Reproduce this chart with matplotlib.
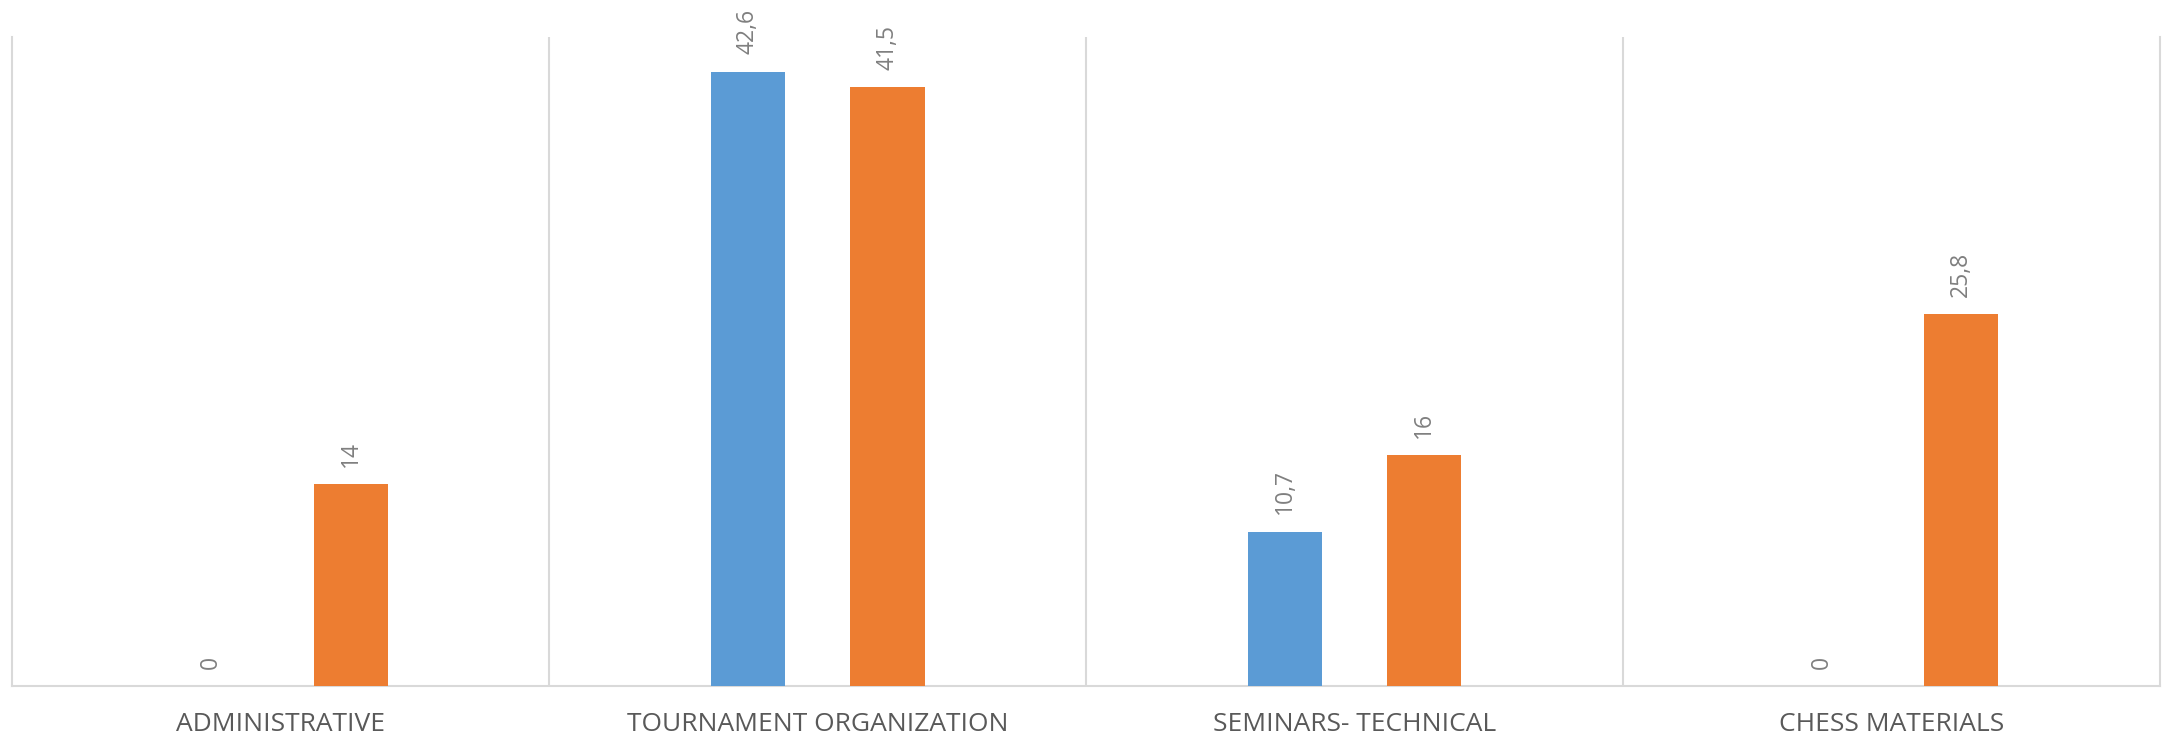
import matplotlib
matplotlib.use("Agg")
import matplotlib.pyplot as plt
import numpy as np

categories = ["ADMINISTRATIVE", "TOURNAMENT ORGANIZATION", "SEMINARS- TECHNICAL", "CHESS MATERIALS"]
series_a = [0, 42.6, 10.7, 0]
series_b = [14, 41.5, 16, 25.8]
labels_a = ["0", "42,6", "10,7", "0"]
labels_b = ["14", "41,5", "16", "25,8"]

BLUE = "#5B9BD5"
ORANGE = "#ED7D31"
GRID = "#D9D9D9"

plt.rcParams['font.family'] = ['Open Sans', 'DejaVu Sans']

fig = plt.figure(figsize=(21.63, 7.40), dpi=100)
ax = fig.add_axes([0.0057, 0.073, 0.9929, 0.877])

x = np.arange(len(categories))
w = 0.138
off = 0.13
ba = ax.bar(x - off, series_a, width=w, color=BLUE, zorder=3)
bb = ax.bar(x + off, series_b, width=w, color=ORANGE, zorder=3)

for bars, labs in ((ba, labels_a), (bb, labels_b)):
    for rect, lab in zip(bars, labs):
        ax.annotate(lab, (rect.get_x() + rect.get_width() / 2, rect.get_height()),
                    xytext=(0, 12.5), textcoords='offset points', rotation=90,
                    ha='center', va='bottom', fontsize=16.5, color='#7F7F7F')

ax.set_xlim(-0.5, len(categories) - 0.5)
ax.set_ylim(0, 45)

for b in np.arange(0.5, len(categories) - 0.5, 1.0):
    ax.axvline(b, color=GRID, lw=1.5, zorder=1)

ax.spines['top'].set_visible(False)
for s in ['left', 'right', 'bottom']:
    ax.spines[s].set_color(GRID)
    ax.spines[s].set_linewidth(1.5)

ax.set_yticks([])
ax.set_xticks(x)
ax.set_xticklabels(categories, fontsize=19, color='#595959')
ax.tick_params(axis='x', length=0, pad=19)

fig.savefig("out.png", dpi=100)
